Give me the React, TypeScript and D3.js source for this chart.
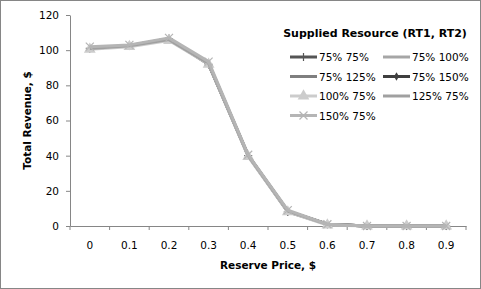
import React, { useEffect, useRef } from 'react';
import * as d3 from 'd3';

const prices = ['0', '0.1', '0.2', '0.3', '0.4', '0.5', '0.6', '0.7', '0.8', '0.9'];
const yTicks = [0, 20, 40, 60, 80, 100, 120];

// revenue per reserve price for each supplied resource mix
const r75_75 = [101, 102.5, 106.5, 92, 40, 8, 1, 0, 0, 0];
const r75_100 = [101, 102.5, 106, 92.5, 40, 8.5, 1, 0, 0, 0];
const r75_125 = [101, 102.5, 106, 92.5, 40, 8.5, 1, 0, 0, 0];
const r75_150 = [101, 102.5, 106.5, 92, 40, 8.5, 1, 0, 0, 0];
const r100_75 = [100.5, 102, 105.5, 92, 39.5, 8, 0.5, 0, 0, 0];
const r125_75 = [101, 102.5, 106, 92.5, 40, 8.5, 1, 0, 0, 0];
const r150_75 = [102, 103, 107, 93.5, 40.5, 9, 1, 0, 0, 0];

const seriesNames = ['75% 75%', '75% 100%', '75% 125%', '75% 150%', '100% 75%', '125% 75%', '150% 75%'];
const seriesValues = [r75_75, r75_100, r75_125, r75_150, r100_75, r125_75, r150_75];
const seriesColors = ['#555555', '#a6a6a6', '#7f7f7f', '#3f3f3f', '#cccccc', '#a0a0a0', '#b5b5b5'];
const seriesMarkers = ['plus', 'none', 'none', 'diamond', 'triangle', 'none', 'cross'];

const W = 481;
const H = 289;
const margin = { top: 15, right: 15, bottom: 63, left: 70 };

function drawMarker(g: d3.Selection<SVGGElement, unknown, null, undefined>, kind: string, x: number, y: number, color: string) {
  if (kind === 'plus') {
    g.append('path').attr('d', `M${x - 4},${y}H${x + 4}M${x},${y - 4}V${y + 4}`).attr('stroke', color).attr('stroke-width', 1.2).attr('fill', 'none');
  } else if (kind === 'diamond') {
    g.append('path').attr('d', d3.symbol(d3.symbolDiamond, 22)()).attr('transform', `translate(${x},${y})`).attr('fill', color);
  } else if (kind === 'triangle') {
    g.append('path').attr('d', d3.symbol(d3.symbolTriangle, 60)()).attr('transform', `translate(${x},${y})`).attr('fill', color);
  } else if (kind === 'cross') {
    g.append('path').attr('d', `M${x - 4},${y - 4}L${x + 4},${y + 4}M${x - 4},${y + 4}L${x + 4},${y - 4}`).attr('stroke', color).attr('stroke-width', 1.2).attr('fill', 'none');
  }
}

export default function App() {
  const ref = useRef<SVGSVGElement>(null);

  useEffect(() => {
    const svg = d3.select(ref.current);
    svg.selectAll('*').remove();

    svg.append('rect').attr('x', 0.5).attr('y', 0.5).attr('width', W - 1).attr('height', H - 1)
      .attr('fill', 'white').attr('stroke', '#868686');

    const x = d3.scaleBand().domain(prices).range([margin.left, W - margin.right]);
    const y = d3.scaleLinear().domain([0, 120]).range([H - margin.bottom, margin.top]);

    const font = 'Verdana, "DejaVu Sans", sans-serif';

    // y axis
    const yAxis = svg.append('g').attr('transform', `translate(${margin.left},0)`)
      .call(d3.axisLeft(y).tickValues(yTicks).tickSize(4).tickSizeOuter(0));
    yAxis.select('.domain').attr('stroke', '#868686');
    yAxis.selectAll('line').attr('stroke', '#868686');
    yAxis.selectAll('text').attr('font-family', font).attr('font-size', 10.5).attr('fill', '#000').attr('dx', -4);

    // x axis
    const xAxis = svg.append('g').attr('transform', `translate(0,${H - margin.bottom})`)
      .call(d3.axisBottom(x).tickSize(0));
    xAxis.select('.domain').attr('stroke', '#868686');
    xAxis.selectAll('text').attr('font-family', font).attr('font-size', 10.5).attr('fill', '#000').attr('dy', '1.9em');
    const step = x.step();
    prices.forEach((_, i) => {
      const xx = margin.left + i * step;
      xAxis.append('line').attr('x1', xx).attr('x2', xx).attr('y1', 0).attr('y2', 4).attr('stroke', '#868686');
    });
    xAxis.append('line').attr('x1', W - margin.right).attr('x2', W - margin.right).attr('y1', 0).attr('y2', 4).attr('stroke', '#868686');

    svg.append('text').attr('x', (margin.left + W - margin.right) / 2).attr('y', 269)
      .attr('text-anchor', 'middle').attr('font-family', font).attr('font-size', 10.5).attr('font-weight', 'bold')
      .text('Reserve Price, $');
    svg.append('text').attr('transform', `translate(31,${(margin.top + H - margin.bottom) / 2}) rotate(-90)`)
      .attr('text-anchor', 'middle').attr('font-family', font).attr('font-size', 10.5).attr('font-weight', 'bold')
      .text('Total Revenue, $');

    const cx = (i: number) => (x(prices[i]) as number) + x.bandwidth() / 2;
    const line = d3.line<number>().x((_, i) => cx(i)).y((d) => y(d));

    const plot = svg.append('g');
    seriesValues.forEach((vals, s) => {
      plot.append('path').attr('d', line(vals)).attr('fill', 'none')
        .attr('stroke', seriesColors[s]).attr('stroke-width', 3).attr('stroke-linejoin', 'round');
      vals.forEach((v, i) => drawMarker(plot, seriesMarkers[s], cx(i), y(v), seriesColors[s]));
    });

    // legend
    const lg = svg.append('g');
    lg.append('text').attr('x', 375).attr('y', 37).attr('text-anchor', 'middle')
      .attr('font-family', font).attr('font-size', 11).attr('font-weight', 'bold').text('Supplied Resource (RT1, RT2)');
    seriesNames.forEach((name, s) => {
      const col = s % 2;
      const row = Math.floor(s / 2);
      const lx = col === 0 ? 290 : 383;
      const ly = 57 + row * 19.5;
      lg.append('line').attr('x1', lx).attr('x2', lx + 27).attr('y1', ly).attr('y2', ly)
        .attr('stroke', seriesColors[s]).attr('stroke-width', 3);
      drawMarker(lg, seriesMarkers[s], lx + 13.5, ly, seriesColors[s]);
      lg.append('text').attr('x', lx + 29).attr('y', ly + 4)
        .attr('font-family', font).attr('font-size', 10.5).attr('fill', '#000').text(name);
    });
  }, []);

  return <svg ref={ref} width={W} height={H} style={{ display: 'block', position: 'absolute', left: 0, top: 0 }} />;
}
